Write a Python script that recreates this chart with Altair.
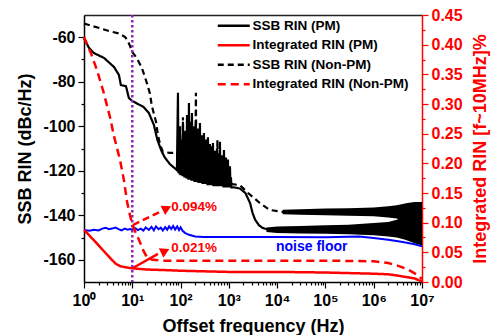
import altair as alt
import pandas as pd

FONT = "Liberation Sans"
RED = "#ff0000"
BLUE = "#0000ff"
PURPLE = "#8e24b8"

series_names = ["SSB RIN (PM)", "Integrated RIN (PM)", "SSB RIN (Non-PM)", "Integrated RIN (Non-PM)"]

# ---- SSB RIN (PM), left axis (dBc/Hz) ----
pm_f = [1, 1.27, 1.6, 2.6, 4.2, 5.3, 5.8, 7.4, 8.5, 9.9, 17, 22, 28, 33, 40, 47, 60, 84,
        88.3, 90.5, 92.7, 95, 97.2, 99.6, 102, 104.5, 107, 109.5, 112, 115, 117.6, 120,
        123, 126, 129, 132, 136, 139, 142, 145.5, 149, 153, 157, 160.5, 164, 168, 172, 176,
        181, 185, 189, 194, 199, 203, 208, 213, 219, 224, 229, 234, 240, 246, 252, 258,
        264, 270, 277, 284, 291, 298, 305, 312, 320, 328, 336, 344, 352, 360, 369, 378,
        387, 396, 406, 416, 426, 436, 447, 458, 469, 480, 492, 503, 515, 528, 541, 554,
        567, 580, 595, 609, 624, 639, 654, 670, 686, 702, 720, 737, 755, 773, 792, 811,
        830, 850, 871, 892, 914, 936, 958, 981, 1005, 1029, 1054, 1079, 1105, 1130,
        1300, 1700, 2200, 2750, 3100, 3500, 4200, 5000, 7000, 1e4, 1e5, 1e6, 3e6, 6e6, 1e7]
pm_v = [-60.5, -64.8, -67.1, -69.3, -73.4, -77, -81.5, -82, -87.3, -88.6, -91.3, -94, -99.4, -106, -111, -114, -117, -119.7,
        -85, -121, -118, -121.5, -100, -122, -112, -122, -106, -122.5, -98, -122.5, -108, -123,
        -102, -123, -110, -123.5, -95, -123.5, -104, -124, -89.5, -124, -103, -124, -98, -124.5, -94, -124.5,
        -106, -124.5, -100, -125, -108, -125, -99, -125, -104, -125, -101, -125.5, -107, -125.5, -98.5, -125.5,
        -108, -125.5, -104, -126, -110, -126, -103, -126, -109, -126, -106, -126, -111, -126.5, -105, -126.5,
        -112, -126.5, -108, -126.5, -113, -126.5, -109, -126.5, -107.5, -127, -113, -127, -111, -127, -115, -127,
        -110, -127, -114, -127, -112, -127, -107, -127, -115, -127, -113, -127, -116, -127.5, -110.7, -127.5,
        -117, -127.5, -114, -127.5, -118, -127.5, -115, -127.5, -120, -127.5, -118, -127.5, -123, -127.5,
        -127.5, -128, -130, -134.5, -139, -142, -144.5, -145.7, -146.6, -146.6, -146.3, -146, -146, -145.5, -145]
# noise band of the PM trace at high offset
pm_band_f = [6000, 1e4, 3e4, 1e5, 3e5, 1e6, 2e6, 3e6, 4.5e6, 6e6, 8e6, 1e7]
pm_band_hi = [-145.5, -145, -144.8, -144.5, -144.3, -143.5, -143, -142, -140, -138, -136.5, -135]
pm_band_lo = [-147.5, -148, -148.2, -148.3, -148.5, -149, -149.5, -150, -151, -152, -153, -153.5]

# ---- SSB RIN (Non-PM) ----
npm_f = [1, 1.5, 2.1, 3.4, 5.3, 7, 7.8, 9, 9.9, 12.5, 15.8, 20, 23, 25.5, 31, 34, 38, 43, 60, 84,
         92, 110, 112, 114, 150, 200, 208, 212, 300, 560, 580, 600, 800, 1200, 1700, 2500, 4400,
         7000, 1.3e4, 1e5, 1e6, 1e7]
npm_v = [-53.8, -55, -55.9, -57.3, -58.3, -59.8, -61, -64, -66.5, -69.5, -73.8, -80.5, -85, -91, -98, -104, -108.5, -111.5, -112, -112,
         -119, -120, -96, -121, -122, -122, -85, -122, -123, -124, -106, -124, -125, -126, -126.5, -130, -134.5,
         -137.6, -138.5, -138.5, -138.5, -139.5]
npm_band_f = [1.3e4, 3e4, 1e5, 3e5, 1e6, 2e6, 3e6, 5e6, 7e6, 1e7]
npm_band_hi = [-137.5, -137.3, -137, -136.8, -136.5, -136, -135.5, -134.5, -134, -134]
npm_band_lo = [-139.5, -139.8, -140, -140.2, -140.5, -141, -141.5, -143, -144, -145]

# ---- Integrated RIN, right axis (%) ----
ipm_f = [1, 2, 3, 4.5, 5.5, 7, 10, 20, 50, 100, 300, 1000, 1e4, 1e5, 3e5, 1e6, 2e6, 3e6, 5e6, 7e6, 1e7]
ipm_v = [0.088, 0.062, 0.046, 0.031, 0.027, 0.025, 0.023, 0.021, 0.020, 0.019, 0.018, 0.017, 0.017, 0.016,
         0.015, 0.014, 0.013, 0.011, 0.008, 0.006, 0.001]
inpm_f = [1, 1.4, 1.86, 2.5, 3.45, 4.2, 5.56, 6.7, 7.8, 9, 9.85, 11.5, 13.8, 16.5, 20, 25, 39, 100,
          1e3, 1e4, 1e5, 1e6, 2e6, 3e6, 4.5e6, 6e6, 8e6, 1e7]
inpm_v = [0.413, 0.385, 0.357, 0.322, 0.278, 0.245, 0.206, 0.172, 0.135, 0.112, 0.099, 0.085, 0.071, 0.055,
          0.042, 0.038, 0.036, 0.036, 0.036, 0.036, 0.036, 0.035, 0.032, 0.028, 0.023, 0.018, 0.012, 0.005]

# ---- noise floor ----
floor_f = [1, 1.3, 1.6, 2, 2.4, 2.8, 3.3, 3.8, 4.5, 5.2, 6, 7, 8, 9, 10, 11.5, 13, 15, 17, 19, 22, 25, 28,
           31, 35, 39, 43, 48, 53, 58, 64, 70, 77, 85, 93, 100, 110, 125, 150, 200, 300, 1000, 1e4, 1e5,
           5e5, 1e6, 2e6, 4e6, 7e6, 1e7]
floor_v = [-146.6, -147.0, -146.5, -146.8, -146.0, -145.6, -146.3, -146.0, -145.5, -146.2, -146.8, -146.0,
           -146.5, -146.2, -146.5, -145.8, -146.7, -146.0, -146.9, -145.5, -146.6, -145.2, -146.8, -145.0,
           -146.3, -145.6, -146.9, -145.4, -146.5, -145.0, -146.2, -144.8, -146.4, -145.0, -146.7, -145.4,
           -147.0, -148.0, -148.8, -149.5, -149.8, -149.8, -149.8, -149.9, -149.6, -150.2, -151.0, -152.0,
           -153.0, -154.0]

# ---- annotations ----
marker_f = [10]
ann_text = ["0.094%", "0.021%"]
ann_f = [64, 64]
ann_v = [-136.3, -154.7]
arrow1_f = [10.3, 37.5]
arrow1_v = [-144.4, -138.5]
arrow2_f = [10.3, 34]
arrow2_v = [-163.7, -157.4]
head_f = [49, 45]
head_v = [-137.2, -156.4]
floor_label = ["noise floor"]
floor_label_f = [52000]
floor_label_v = [-154.3]

x_ticks = [m * 10 ** k for k in range(7) for m in range(1, 10)] + [1e7]
x_labels = ["10\u2070", "10\u00b9", "10\u00b2", "10\u00b3", "10\u2074", "10\u2075", "10\u2076", "10\u2077"]
yl_ticks = list(range(-160, -50, 10))
yr_ticks = [i * 0.025 for i in range(19)]


def frame(f, v, name, key="v"):
    return pd.DataFrame({"f": f, key: v, "series": name, "idx": list(range(len(f)))})


black_df = pd.concat([frame(pm_f, pm_v, series_names[0]), frame(npm_f, npm_v, series_names[2])])
red_df = pd.concat([frame(ipm_f, ipm_v, series_names[1]), frame(inpm_f, inpm_v, series_names[3])])
pm_band = pd.DataFrame({"f": pm_band_f, "hi": pm_band_hi, "lo": pm_band_lo})
npm_band = pd.DataFrame({"f": npm_band_f, "hi": npm_band_hi, "lo": npm_band_lo})
floor_df = frame(floor_f, floor_v, "noise floor")
ann_df = pd.DataFrame({"f": ann_f, "v": ann_v, "t": ann_text})
a1_df = frame(arrow1_f, arrow1_v, "a1")
a2_df = frame(arrow2_f, arrow2_v, "a2")
head_df = pd.DataFrame({"f": head_f, "v": head_v})
fl_df = pd.DataFrame({"f": floor_label_f, "v": floor_label_v, "t": floor_label})
mk_df = pd.DataFrame({"f": marker_f})

MAJ_X = "abs(log(datum.value)/LN10 - round(log(datum.value)/LN10)) < 0.001"
lab_arr = "[" + ",".join("'" + s + "'" for s in x_labels) + "]"
x_scale = alt.Scale(type="log", domain=[1, 1e7], nice=False)
yl_scale = alt.Scale(domain=[-170, -50], nice=False, zero=False)
yr_scale = alt.Scale(domain=[0, 0.45], nice=False, zero=False)

x_axis = alt.Axis(
    orient="bottom", values=x_ticks, title="Offset frequency (Hz)",
    labelExpr=f"{MAJ_X} ? {lab_arr}[round(log(datum.value)/LN10)] : ''",
    tickSize={"condition": {"test": MAJ_X, "value": 6}, "value": 3},
    labelFlush=False, labelOverlap=False, labelFont=FONT, labelFontSize=16, labelFontWeight="bold",
    labelColor="black", labelPadding=4, tickColor="black", tickWidth=1.2, domainColor="black",
    domainWidth=1.5, titleFont=FONT, titleFontSize=18, titleFontWeight="bold", titleColor="black",
    titleX=169, titleY=44, titleBaseline="middle", titleAlign="center", grid=False,
)
x_top = alt.Axis(orient="top", labels=False, ticks=False, domainColor="#222", domainWidth=1.5,
                 title=None, grid=False)
MAJ_YL = "datum.value % 20 == 0"
yl_axis = alt.Axis(
    orient="left", values=yl_ticks, title="SSB RIN (dBc/Hz)",
    labelExpr=f"{MAJ_YL} ? '' + datum.value : ''",
    tickSize={"condition": {"test": MAJ_YL, "value": 6}, "value": 3},
    labelOverlap=False, labelFlush=False, labelFont=FONT, labelFontSize=16, labelFontWeight="bold",
    labelColor="black", labelPadding=3, tickColor="black", tickWidth=1.2, domainColor="black",
    domainWidth=1.5, titleFont=FONT, titleFontSize=18, titleFontWeight="bold", titleColor="black",
    titleX=-59, titleY=133.5, titleAngle=270, titleBaseline="middle", titleAlign="center", grid=False,
)
MAJ_YR = "abs(datum.value*20 - round(datum.value*20)) < 0.001"
yr_axis = alt.Axis(
    orient="right", values=yr_ticks, title="Integrated RIN [f~10MHz]%",
    labelExpr=f"{MAJ_YR} ? format(datum.value, '.2f') : ''",
    tickSize={"condition": {"test": MAJ_YR, "value": 6}, "value": 3},
    labelOverlap=False, labelFlush=False, labelFont=FONT, labelFontSize=16, labelFontWeight="bold",
    labelColor=RED, labelPadding=3, tickColor=RED, tickWidth=1.2, domainColor=RED,
    domainWidth=1.5, titleFont=FONT, titleFontSize=18, titleFontWeight="bold", titleColor=RED,
    titleX=58, titleY=133.5, titleAngle=270, titleBaseline="middle", titleAlign="center", grid=False,
)

legend = alt.Legend(
    title=None, orient="none", legendX=143, legendY=4, symbolType="M-3.2,0H3.2", symbolSize=100,
    symbolStrokeWidth=2.5, labelFont=FONT, labelFontSize=13.5, labelFontWeight="bold",
    labelColor="black", padding=0, rowPadding=4.5, labelOffset=12,
)
color_enc = alt.Color("series:N", scale=alt.Scale(domain=series_names, range=["black", RED, "black", RED]),
                      legend=legend)
dash_enc = alt.StrokeDash("series:N",
                          scale=alt.Scale(domain=series_names, range=[[1, 0], [1, 0], [6, 4], [8, 5]]),
                          legend=legend)

X = alt.X("f:Q", scale=x_scale, axis=x_axis)
YL = alt.Y("v:Q", scale=yl_scale, axis=yl_axis)

pm_band_l = alt.Chart(pm_band).mark_area(color="black").encode(
    x=X, y=alt.Y("hi:Q", scale=yl_scale, axis=yl_axis), y2="lo:Q")
npm_band_l = alt.Chart(npm_band).mark_area(color="black").encode(
    x=X, y=alt.Y("hi:Q", scale=yl_scale, axis=yl_axis), y2="lo:Q")
floor_l = alt.Chart(floor_df).mark_line(color=BLUE, strokeWidth=2).encode(x=X, y=YL, order="idx:Q")
black_l = alt.Chart(black_df).mark_line(strokeWidth=2.2).encode(
    x=X, y=YL, color=color_enc, strokeDash=dash_enc, detail="series:N", order="idx:Q")
marker_l = alt.Chart(mk_df).mark_rule(color=PURPLE, strokeWidth=2.5, strokeDash=[2.5, 2.5]).encode(x=X)
a1_l = alt.Chart(a1_df).mark_line(color=RED, strokeWidth=2.5, strokeDash=[7, 4]).encode(x=X, y=YL, order="idx:Q")
a2_l = alt.Chart(a2_df).mark_line(color=RED, strokeWidth=2.5).encode(x=X, y=YL, order="idx:Q")
head_l = alt.Chart(head_df).mark_point(shape="triangle", filled=True, color=RED, size=110, angle=64,
                                       opacity=1).encode(x=X, y=YL)
ann_l = alt.Chart(ann_df).mark_text(align="left", baseline="middle", font=FONT, fontSize=13.5,
                                    fontWeight="bold", color=RED).encode(x=X, y=YL, text="t:N")
fl_l = alt.Chart(fl_df).mark_text(align="center", baseline="middle", font=FONT, fontSize=14,
                                  fontWeight="bold", color=BLUE).encode(x=X, y=YL, text="t:N")

left = alt.layer(pm_band_l, npm_band_l, black_l, floor_l, a1_l, a2_l, head_l, ann_l, fl_l, marker_l)

red_l = alt.Chart(red_df).mark_line(strokeWidth=2.5).encode(
    x=alt.X("f:Q", scale=x_scale, axis=x_top),
    y=alt.Y("v:Q", scale=yr_scale, axis=yr_axis),
    color=color_enc, strokeDash=dash_enc, detail="series:N", order="idx:Q")

chart = alt.layer(left, red_l).resolve_scale(x="independent", y="independent").properties(
    width=338, height=267, autosize=alt.AutoSizeParams(type="none"),
    padding={"left": 84, "top": 15, "right": 71, "bottom": 53},
).configure_view(stroke=None).configure(background="white")

chart.save("out.html", embed_options={"renderer": "svg", "actions": False})
